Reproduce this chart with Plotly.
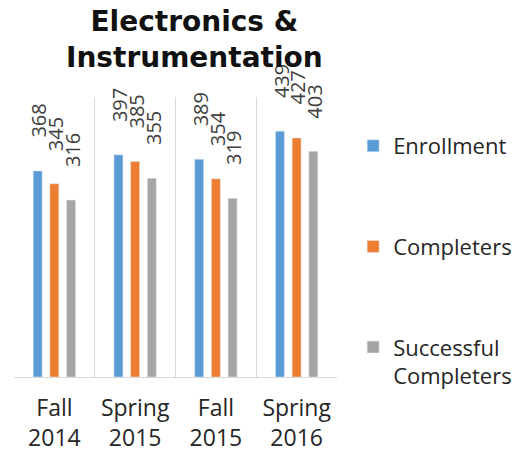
import plotly.graph_objects as go

categories = ["Fall<br>2014", "Spring<br>2015", "Fall<br>2015", "Spring<br>2016"]
enrollment = [368, 397, 389, 439]
completers = [345, 385, 354, 427]
successful = [316, 355, 319, 403]
series_names = ["Enrollment", "Completers", "Successful<br>Completers"]
colors = ["#5B9BD5", "#ED7D31", "#A5A5A5"]
title_text = "<b>Electronics &<br>Instrumentation</b>"

FONT = "Open Sans, Lato, sans-serif"
# page body has an 8px margin; figure is sized to fill the rest of the window
W, H = 518, 444
L, T = 6, 89
PW, PH = 323, 280
BARGAP = 0.38

series = [enrollment, completers, successful]
fig = go.Figure()
for i, (name, vals, col) in enumerate(zip(series_names, series, colors)):
    fig.add_trace(go.Bar(
        x=categories, y=vals, name=name, marker_color=col,
        cliponaxis=False, legendgroup=f"g{i}",
    ))

# value labels (rotated) placed over each bar of the group
slot = PW / len(categories) * (1 - BARGAP) / len(series)
for i, vals in enumerate(series):
    for c, v in zip(categories, vals):
        fig.add_annotation(x=c, y=v, text=str(v), showarrow=False, textangle=-90,
                           xanchor="center", yanchor="bottom",
                           xshift=(i - (len(series) - 1) / 2) * slot + 1, yshift=31,
                           font=dict(family=FONT, size=20, color="#404040"))

fig.add_annotation(text=title_text, xref="paper", yref="paper", x=(186 - L) / PW, y=1,
                   xanchor="center", yanchor="bottom", yshift=21, showarrow=False,
                   font=dict(family="DejaVu Sans", size=28, color="#111111"))

fig.update_layout(
    width=W, height=H,
    margin=dict(l=L, r=W - L - PW, t=T, b=H - T - PH, autoexpand=False),
    paper_bgcolor="white", plot_bgcolor="white",
    barmode="group", bargap=BARGAP, bargroupgap=0.46,
    legend=dict(x=1.05, y=0.90, xanchor="left", yanchor="top", tracegroupgap=69,
                valign="top",
                font=dict(family=FONT, size=22, color="#262626")),
    showlegend=True,
)
fig.update_xaxes(showgrid=True, gridcolor="#d9d9d9", gridwidth=1, tickson="boundaries",
                 ticks="", showline=True, linecolor="#d9d9d9", linewidth=1,
                 ticklabelstandoff=10,
                 tickfont=dict(family=FONT, size=23, color="#262626"), range=[-0.5, 3.5])
fig.update_yaxes(range=[0, 500], showgrid=False, showticklabels=False, zeroline=False, showline=False)

fig.write_html("out.html")
